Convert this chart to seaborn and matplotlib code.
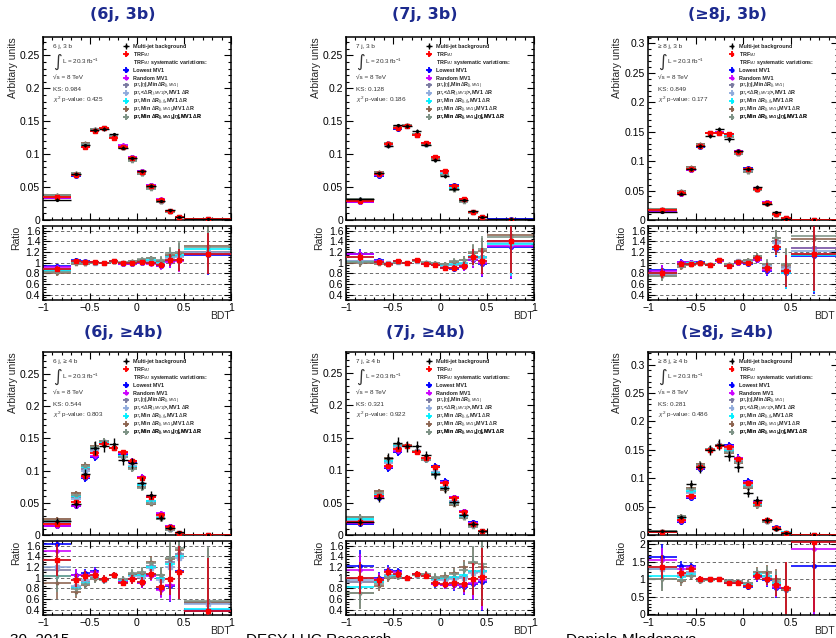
import numpy as np
import seaborn as sns
import matplotlib.pyplot as plt
from matplotlib.lines import Line2D
from matplotlib.ticker import MultipleLocator, FuncFormatter

# BDT binning: one wide bin at each end, 0.1 wide in between
bin_edges = [-1.0, -0.7, -0.6, -0.5, -0.4, -0.3, -0.2, -0.1, 0.0, 0.1, 0.2, 0.3, 0.4, 0.5, 1.0]

regions = ["(6j, 3b)", "(7j, 3b)", "(\u22658j, 3b)", "(6j, \u22654b)", "(7j, \u22654b)", "(\u22658j, \u22654b)"]
region_tags = ["6 j, 3 b", "7 j, 3 b", "\u2265 8 j, 3 b", "6 j, \u2265 4 b", "7 j, \u2265 4 b", "\u2265 8 j, \u2265 4 b"]
ks_values = ["0.984", "0.128", "0.849", "0.544", "0.321", "0.281"]
chi2_pvalues = ["0.425", "0.186", "0.177", "0.803", "0.922", "0.486"]

# multi-jet background (normalised), one row per region
mj_bkg = [
    [0.031, 0.0705, 0.1135, 0.1365, 0.1385, 0.130, 0.110, 0.0935, 0.074, 0.052, 0.029, 0.0145, 0.005, 0.001],
    [0.032, 0.0708, 0.113, 0.1437, 0.1427, 0.135, 0.1146, 0.091, 0.0667, 0.047, 0.0297, 0.0135, 0.005, 0.001],
    [0.0136, 0.045, 0.086, 0.126, 0.1427, 0.155, 0.137, 0.117, 0.086, 0.0566, 0.0266, 0.013, 0.0023, 0.0003],
    [0.0219, 0.048, 0.0948, 0.135, 0.138, 0.142, 0.117, 0.111, 0.0807, 0.0625, 0.026, 0.0115, 0.004, 0.0002],
    [0.0205, 0.0574, 0.118, 0.1424, 0.1368, 0.137, 0.123, 0.0937, 0.0717, 0.0507, 0.0307, 0.017, 0.006, 0.0],
    [0.0076, 0.032, 0.09, 0.119, 0.149, 0.159, 0.139, 0.12, 0.0747, 0.0618, 0.0265, 0.01, 0.003, 0.0003],
]

# ratio multi-jet / TRF_MJ and its uncertainty
ratio_trf = [
    [0.89, 1.04, 1.02, 1.01, 0.99, 1.04, 0.99, 0.99, 1.01, 1.0, 0.955, 1.05, 1.05, 1.17],
    [1.11, 1.015, 0.985, 1.03, 1.0, 1.045, 0.985, 0.955, 0.905, 0.905, 0.935, 1.1, 1.035, 1.41],
    [0.81, 0.985, 0.985, 1.0, 0.96, 1.05, 0.94, 1.015, 1.0, 1.08, 0.9, 1.3, 0.85, 1.17],
    [1.33, 0.95, 1.03, 1.06, 0.98, 1.05, 0.91, 0.97, 0.92, 1.065, 0.83, 0.97, 1.1, 0.375],
    [1.0, 0.95, 1.11, 1.07, 1.0, 1.065, 1.04, 0.9, 0.89, 0.9, 0.88, 0.97, 1.015, np.nan],
    [1.35, 1.18, 1.3, 1.0, 1.0, 1.01, 0.9, 0.9, 0.81, 1.09, 1.02, 0.83, 0.74, 2.07],
]
ratio_err = [
    [0.05, 0.03, 0.02, 0.02, 0.02, 0.02, 0.02, 0.02, 0.03, 0.04, 0.06, 0.12, 0.2, 0.38],
    [0.08, 0.04, 0.03, 0.02, 0.02, 0.02, 0.02, 0.03, 0.04, 0.05, 0.07, 0.15, 0.25, 0.6],
    [0.1, 0.05, 0.03, 0.03, 0.02, 0.02, 0.03, 0.03, 0.04, 0.06, 0.09, 0.15, 0.3, 0.7],
    [0.3, 0.12, 0.09, 0.08, 0.07, 0.06, 0.07, 0.08, 0.1, 0.1, 0.15, 0.3, 0.5, 1.0],
    [0.3, 0.1, 0.08, 0.07, 0.06, 0.06, 0.06, 0.07, 0.08, 0.1, 0.14, 0.3, 0.55, 0.0],
    [0.35, 0.15, 0.1, 0.08, 0.06, 0.06, 0.06, 0.07, 0.08, 0.12, 0.2, 0.3, 0.75, 2.0],
]

# ratio multi-jet / TRF_MJ systematic variations
ratio_lowest_mv1 = [
    [0.93, 1.05, 1.03, 1.01, 0.99, 1.03, 0.98, 0.98, 1.0, 0.99, 0.94, 1.03, 1.05, 1.15],
    [1.17, 1.05, 0.98, 1.04, 1.0, 1.04, 0.98, 0.95, 0.9, 0.89, 0.92, 1.05, 0.98, 1.3],
    [0.86, 1.02, 1.02, 1.01, 0.96, 1.04, 0.94, 1.0, 0.98, 1.06, 0.85, 1.25, 0.8, 1.12],
    [1.63, 1.05, 1.08, 1.12, 0.97, 1.05, 0.93, 0.98, 0.9, 1.05, 0.78, 0.85, 1.12, 0.38],
    [1.22, 1.0, 1.15, 1.12, 1.0, 1.07, 1.05, 0.88, 0.86, 0.86, 0.82, 0.88, 0.92, np.nan],
    [1.65, 1.38, 1.38, 1.02, 1.0, 1.01, 0.88, 0.88, 0.78, 1.05, 0.98, 0.75, 0.7, 1.38],
]
ratio_random_mv1 = [
    [0.92, 1.04, 1.02, 1.01, 0.99, 1.03, 0.97, 0.98, 0.99, 0.97, 0.93, 1.02, 1.03, 1.16],
    [1.16, 1.04, 0.97, 1.03, 1.0, 1.04, 0.98, 0.95, 0.9, 0.9, 0.92, 1.06, 1.0, 1.32],
    [0.85, 1.01, 1.02, 1.0, 0.96, 1.04, 0.95, 1.0, 0.99, 1.05, 0.86, 1.27, 0.82, 1.27],
    [1.5, 1.05, 1.06, 1.1, 0.97, 1.05, 0.92, 0.97, 0.9, 1.04, 0.77, 0.86, 1.1, 0.4],
    [1.14, 0.98, 1.12, 1.1, 1.0, 1.07, 1.05, 0.89, 0.87, 0.87, 0.84, 0.9, 0.95, np.nan],
    [1.55, 1.3, 1.35, 1.01, 1.0, 1.01, 0.89, 0.89, 0.8, 1.06, 1.0, 0.78, 0.72, 1.87],
]
ratio_eta_mindr = [
    [0.86, 1.02, 1.0, 1.0, 0.99, 1.03, 0.99, 1.01, 1.03, 1.03, 1.0, 1.1, 1.12, 1.2],
    [1.03, 1.02, 0.98, 1.02, 1.0, 1.04, 0.99, 0.97, 0.94, 0.96, 0.98, 1.1, 1.1, 1.4],
    [0.78, 0.95, 0.98, 0.99, 0.96, 1.05, 0.96, 1.03, 1.03, 1.1, 0.95, 1.4, 0.92, 1.27],
    [1.15, 0.82, 0.92, 1.02, 0.96, 1.05, 0.96, 1.05, 1.05, 1.22, 1.0, 1.3, 1.45, 0.52],
    [0.92, 0.92, 1.05, 1.04, 1.0, 1.06, 1.06, 0.98, 0.98, 1.0, 1.02, 1.1, 1.12, np.nan],
    [1.3, 1.1, 1.2, 0.98, 0.99, 1.0, 0.93, 0.92, 0.85, 1.12, 1.08, 0.88, 0.7, 2.5],
]
ratio_avg_dr = [
    [0.88, 1.02, 1.01, 1.0, 0.99, 1.03, 0.99, 1.0, 1.02, 1.02, 0.98, 1.08, 1.1, 1.18],
    [1.04, 1.02, 0.99, 1.02, 1.0, 1.04, 0.99, 0.97, 0.94, 0.95, 0.97, 1.09, 1.08, 1.38],
    [0.79, 0.96, 0.99, 1.0, 0.96, 1.05, 0.96, 1.03, 1.02, 1.09, 0.93, 1.38, 0.88, 1.22],
    [1.2, 0.85, 0.95, 1.04, 0.96, 1.05, 0.95, 1.03, 1.02, 1.18, 0.95, 1.2, 1.38, 0.5],
    [0.95, 0.93, 1.06, 1.05, 1.0, 1.06, 1.05, 0.96, 0.96, 0.98, 1.0, 1.08, 1.1, np.nan],
    [1.28, 1.12, 1.22, 0.99, 1.0, 1.0, 0.92, 0.92, 0.84, 1.1, 1.05, 0.86, 0.72, 2.5],
]
ratio_mindr_jj = [
    [0.85, 1.0, 1.0, 1.0, 0.99, 1.02, 1.0, 1.02, 1.05, 1.05, 1.02, 1.12, 1.15, 1.25],
    [1.02, 1.0, 0.98, 1.02, 1.0, 1.04, 1.0, 0.98, 0.96, 0.98, 1.0, 1.12, 1.1, 1.35],
    [0.8, 0.97, 0.99, 1.0, 0.96, 1.05, 0.95, 1.02, 1.0, 1.08, 0.9, 1.28, 0.8, 1.15],
    [1.04, 0.8, 0.9, 1.0, 0.96, 1.05, 0.96, 1.05, 1.05, 1.2, 1.0, 1.25, 1.4, 0.41],
    [0.82, 0.92, 1.04, 1.03, 1.0, 1.06, 1.06, 0.98, 1.0, 1.02, 1.05, 1.12, 1.12, np.nan],
    [1.1, 1.05, 1.15, 0.98, 0.99, 1.0, 0.94, 0.93, 0.86, 1.15, 1.1, 0.9, 0.68, 2.5],
]
ratio_mindr_jmv1 = [
    [0.81, 0.98, 0.97, 0.99, 0.99, 1.02, 1.0, 1.03, 1.06, 1.08, 1.04, 1.15, 1.18, 1.32],
    [1.0, 0.98, 0.96, 1.01, 0.99, 1.03, 1.0, 0.99, 0.98, 1.02, 1.05, 1.18, 1.22, 1.52],
    [0.75, 0.92, 0.96, 0.98, 0.96, 1.05, 0.97, 1.04, 1.05, 1.12, 0.97, 1.47, 0.95, 1.45],
    [0.9, 0.74, 0.87, 0.98, 0.95, 1.05, 0.97, 1.07, 1.08, 1.3, 1.05, 1.35, 1.52, 0.55],
    [0.72, 0.85, 1.0, 1.02, 0.99, 1.06, 1.07, 1.0, 1.03, 1.08, 1.2, 1.28, 1.2, np.nan],
    [1.0, 0.95, 1.08, 0.95, 0.98, 1.0, 0.96, 0.95, 0.9, 1.22, 1.2, 1.0, 0.7, 2.5],
]
ratio_mindr_jmv1_eta = [
    [0.82, 0.99, 0.98, 0.99, 0.99, 1.02, 1.01, 1.04, 1.07, 1.09, 1.06, 1.18, 1.2, 1.3],
    [1.01, 0.99, 0.97, 1.01, 0.99, 1.03, 1.01, 1.0, 0.98, 1.03, 1.06, 1.2, 1.25, 1.48],
    [0.75, 0.93, 0.97, 0.99, 0.97, 1.05, 0.97, 1.04, 1.05, 1.12, 0.98, 1.47, 0.97, 1.5],
    [1.03, 0.78, 0.88, 0.99, 0.95, 1.05, 0.97, 1.08, 1.1, 1.27, 1.05, 1.38, 1.55, 0.57],
    [0.72, 0.88, 1.01, 1.02, 1.0, 1.06, 1.07, 1.01, 1.02, 1.07, 1.15, 1.3, 1.25, np.nan],
    [1.02, 0.98, 1.1, 0.96, 0.98, 1.0, 0.95, 0.94, 0.88, 1.2, 1.18, 0.95, 0.72, 2.5],
]

variations = [
    ("Lowest MV1", ratio_lowest_mv1, "#0000ff", "o"),
    ("Random MV1", ratio_random_mv1, "#cc00ff", "P"),
    (r"p$_{T}$,|$\eta$|,Min$\Delta$R$_{(j,MV1)}$", ratio_eta_mindr, "#7a7aa0", "v"),
    (r"p$_{T}$,<$\Delta$R$_{(j,MV1)}$>,MV1 $\Delta$R", ratio_avg_dr, "#8faadc", "s"),
    (r"p$_{T}$,Min $\Delta$R$_{(j,j)}$,MV1 $\Delta$R", ratio_mindr_jj, "#00f0ff", "*"),
    (r"p$_{T}$,Min $\Delta$R$_{(j,MV1)}$,MV1 $\Delta$R", ratio_mindr_jmv1, "#8c6450", "*"),
    (r"p$_{T}$,Min $\Delta$R$_{(j,MV1)}$,|$\eta$|,MV1 $\Delta$R", ratio_mindr_jmv1_eta, "#7f9487", "*"),
]

sns.set_theme(style="ticks")
plt.rcParams['font.family'] = ['Liberation Sans', 'DejaVu Sans']
plt.rcParams['mathtext.fontset'] = 'custom'
plt.rcParams['mathtext.rm'] = 'Liberation Sans'
plt.rcParams['mathtext.it'] = 'Liberation Sans:italic'
plt.rcParams['mathtext.bf'] = 'Liberation Sans:bold'

W, H = 836, 638
fig = plt.figure(figsize=(W / 100, H / 100), dpi=100)

col_left = [43, 346, 648]
col_width = [188, 188, 190]
main_rows = [(37, 220), (352, 535)]
ratio_rows = [(226, 300), (541, 615)]
title_x = [123, 425, 727]
title_y = [15, 332]
main_ylim = [0.278, 0.278, 0.311, 0.284, 0.282, 0.322]

edges = np.array(bin_edges)
centers = 0.5 * (edges[1:] + edges[:-1])
half = 0.5 * np.diff(edges)


def tick_fmt(v, pos):
    if abs(v) < 1e-9:
        return "0"
    return f"{v:g}".replace("-", "\u2212")


def add_px_axes(left, width, top, bottom):
    return fig.add_axes([left / W, 1 - bottom / H, width / W, (bottom - top) / H])


def style_axes(ax):
    ax.tick_params(which="both", direction="in", top=True, right=True, labelsize=7.5,
                   colors="black", width=0.8, pad=2)
    ax.tick_params(which="major", length=5)
    ax.tick_params(which="minor", length=2.5)
    for sp in ax.spines.values():
        sp.set_linewidth(1.1)
        sp.set_color("black")
    ax.set_facecolor("white")
    ax.grid(False)


for i in range(6):
    r, c = divmod(i, 3)
    ax = add_px_axes(col_left[c], col_width[c], *main_rows[r])
    axr = add_px_axes(col_left[c], col_width[c], *ratio_rows[r])

    mj = np.array(mj_bkg[i])
    rt = np.array(ratio_trf[i])
    re = np.array(ratio_err[i])
    mj_err = re * mj / rt

    var_handles = []
    for name, vals, color, m in variations:
        rv = np.array(vals[i])
        h = ax.errorbar(centers, mj / rv, xerr=half, yerr=mj_err * 0.6, fmt=m, ms=2.6,
                        color=color, lw=1.3, capsize=0)
        axr.errorbar(centers, rv, xerr=half, yerr=re, fmt=m, ms=2.6, color=color,
                     lw=1.3, capsize=0, alpha=0.9)
        var_handles.append(h)

    h_trf = ax.errorbar(centers, mj / rt, xerr=half, yerr=mj_err * 0.3, fmt="s", ms=2.6,
                        color="#ff0000", lw=1.3, capsize=0, zorder=8)
    axr.errorbar(centers, rt, xerr=half, yerr=re, fmt="s", ms=2.6, color="#ff0000",
                 ecolor="#cc1020", lw=1.3, capsize=0, zorder=10)
    h_mj = ax.errorbar(centers, mj, xerr=half, yerr=mj_err, fmt="o", ms=1.3,
                       color="black", lw=1.0, capsize=0, zorder=12)

    # main panel
    ax.set_xlim(-1, 1)
    ax.set_ylim(0, main_ylim[i])
    ax.xaxis.set_major_locator(MultipleLocator(0.5))
    ax.xaxis.set_minor_locator(MultipleLocator(0.1))
    ax.yaxis.set_major_locator(MultipleLocator(0.05))
    ax.yaxis.set_minor_locator(MultipleLocator(0.01))
    ax.yaxis.set_major_formatter(FuncFormatter(tick_fmt))
    ax.tick_params(labelbottom=False)
    style_axes(ax)
    ax.set_ylabel("Arbitary units", loc="top", fontsize=7.5)
    ax.yaxis.set_label_coords(-0.135, 1.0)

    # legend: one entry per row so the rows sit on an even pitch
    blank = Line2D([], [], lw=0, marker="")
    handles = [h_mj, h_trf, blank] + var_handles
    labels = ["Multi-jet background", r"TRF$_{MJ}$", r"TRF$_{MJ}$ systematic variations:"] + \
             [v[0] for v in variations]
    row_h = 7.9 / 183
    for k, (hh, lab) in enumerate(zip(handles, labels)):
        leg = ax.legend([hh], [lab], loc="center left",
                        bbox_to_anchor=(0.415, 1 - (9.5 / 183) - k * row_h),
                        frameon=False, fontsize=3.9, handlelength=1.8, handletextpad=0.45,
                        borderpad=0, borderaxespad=0, markerscale=0.8)
        for t in leg.get_texts():
            t.set_fontweight("bold")
            t.set_color("#222222")
        ax.add_artist(leg)

    info_kw = dict(transform=ax.transAxes, fontsize=4.6, color="#333333", va="center", ha="left")
    ax.text(0.053, 0.946, region_tags[i], **info_kw)
    ax.text(0.055, 0.865, "\u222b", transform=ax.transAxes, fontsize=12, color="#333333",
            va="center", ha="left", family="DejaVu Sans")
    ax.text(0.1, 0.865, r"L = 20.3 fb$^{-1}$", **info_kw)
    ax.text(0.053, 0.775, "\u221as = 8 TeV", **info_kw)
    ax.text(0.053, 0.715, "KS: " + ks_values[i], **info_kw)
    ax.text(0.053, 0.655, r"$\chi^{2}$ p-value: " + chi2_pvalues[i], **info_kw)

    # ratio panel
    axr.set_xlim(-1, 1)
    axr.xaxis.set_major_locator(MultipleLocator(0.5))
    axr.xaxis.set_minor_locator(MultipleLocator(0.1))
    axr.xaxis.set_major_formatter(FuncFormatter(tick_fmt))
    axr.yaxis.set_major_formatter(FuncFormatter(tick_fmt))
    if i == 5:
        axr.set_ylim(-0.03, 2.1)
        axr.yaxis.set_major_locator(MultipleLocator(0.5))
        axr.yaxis.set_minor_locator(MultipleLocator(0.1))
        grid_vals = [0.5, 1.0, 1.5, 2.0]
    else:
        axr.set_ylim(0.3, 1.69)
        axr.yaxis.set_major_locator(MultipleLocator(0.2))
        axr.yaxis.set_minor_locator(MultipleLocator(0.05))
        grid_vals = [0.4, 0.6, 0.8, 1.0, 1.2, 1.4, 1.6]
    for g in grid_vals:
        axr.axhline(g, color="#555555", lw=0.6, ls=(0, (4, 3)), zorder=0)
    style_axes(axr)
    axr.set_ylabel("Ratio", loc="top", fontsize=7.5)
    axr.yaxis.set_label_coords(-0.115, 1.0)
    axr.set_xlabel("BDT", loc="right", fontsize=7.5)
    axr.xaxis.set_label_coords(1.0 if c < 2 else 0.985, -0.15)

    fig.text(title_x[c] / W, 1 - title_y[r] / H, regions[i], ha="center", va="center",
             color="#1c2a8e", fontsize=11.5, fontweight="bold", family="DejaVu Sans")

# slide footer, cut off by the bottom edge
foot_kw = dict(fontsize=11, color="black", va="top", ha="left")
fig.text(10 / W, 1 - 633.5 / H, "30, 2015", **foot_kw)
fig.text(246 / W, 1 - 633.5 / H, "DESY LHC Research", **foot_kw)
fig.text(566 / W, 1 - 633.5 / H, "Daniela Mladenova", **foot_kw)

fig.savefig("out.png", dpi=100)
